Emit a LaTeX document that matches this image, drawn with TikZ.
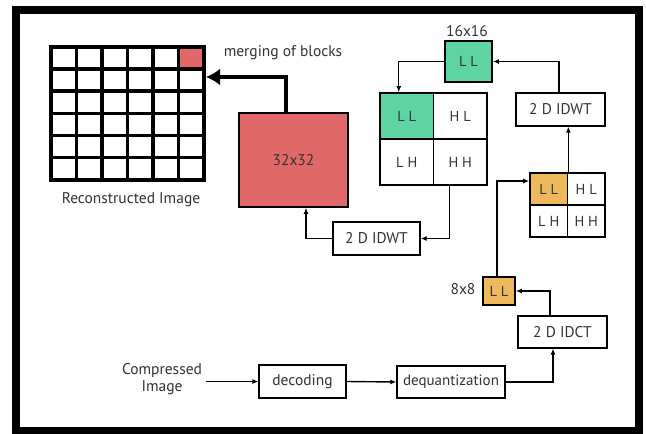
\documentclass[tikz,border=0pt]{standalone}
\usepackage{fontspec}
\setmainfont{PT Sans}
\usetikzlibrary{arrows.meta,positioning,calc}
\definecolor{txt}{HTML}{333333}
\definecolor{redb}{HTML}{E06868}
\definecolor{greenb}{HTML}{5ED4A2}
\definecolor{orangeb}{HTML}{EDB95C}
\tikzset{
  box/.style={draw=black,line width=1.3pt,fill=white,inner sep=0pt,font=\fontsize{15.5}{18}\selectfont,text=txt},
  cell/.style={draw=black,line width=1.6pt,inner sep=0pt,font=\fontsize{14.5}{17}\selectfont,text=txt},
  lbl/.style={inner sep=0pt,font=\fontsize{15.5}{16.5}\selectfont,text=txt,align=center},
  arr/.style={line width=1.4pt,-{Latex[length=6pt,width=5pt]}},
  bigarr/.style={line width=4pt,-{Latex[length=14pt,width=17pt]}},
}
\begin{document}
\begin{tikzpicture}[x=1pt,y=-1pt]
\useasboundingbox (0,0) rectangle (646,434);
\fill[white] (0,0) rectangle (646,434);
\draw[line width=8pt] (16,10) rectangle (639,431);

% reconstructed image grid
\node[draw=none,minimum width=153pt,minimum height=133pt,inner sep=0pt] (grid) at (127.5,113.5) {};
\fill[redb] (178.5,47) rectangle (204,69.17);
\foreach \i in {0,...,6}{
  \draw[line width=3.4pt] ($(grid.north west)+(\i*25.5,-1.7)$) -- ($(grid.south west)+(\i*25.5,1.7)$);
  \draw[line width=3.4pt] ($(grid.north west)+(0,\i*22.17)$) -- ($(grid.north east)+(0,\i*22.17)$);
}
\node[lbl] (recon) at (131,200) {Reconstructed Image};
\node[lbl] (merge) at (283,53) {merging of blocks};
\coordinate (m) at (206,77);

% 32x32
\node[box,fill=redb,line width=1.6pt,minimum width=109pt,minimum height=94pt] (red32) at (293.5,160) {32x32};

% lower IDWT
\node[box,minimum width=87pt,minimum height=33pt] (idwt1) at (376.5,238.5) {2 D IDWT};

% green quad
\node[cell,fill=greenb,minimum width=53.5pt,minimum height=46pt] (gLL) at (406.75,116) {L L};
\node[cell,fill=white,minimum width=53.5pt,minimum height=46pt] (gHL) at (460.25,116) {H L};
\node[cell,fill=white,minimum width=53.5pt,minimum height=46pt] (gLH) at (406.75,162) {L H};
\node[cell,fill=white,minimum width=53.5pt,minimum height=46pt] (gHH) at (460.25,162) {H H};

% 16x16
\node[cell,fill=greenb,minimum width=47pt,minimum height=41pt] (ll16) at (468.5,61.5) {L L};
\node[lbl] (s16) at (467,31) {16x16};

% upper IDWT
\node[box,minimum width=89pt,minimum height=33pt] (idwt2) at (560.5,109.5) {2 D IDWT};

% orange quad
\node[cell,fill=orangeb,minimum width=37.5pt,minimum height=32pt] (oLL) at (548.75,189) {L L};
\node[cell,fill=white,minimum width=37.5pt,minimum height=32pt] (oHL) at (586.25,189) {H L};
\node[cell,fill=white,minimum width=37.5pt,minimum height=32pt] (oLH) at (548.75,221) {L H};
\node[cell,fill=white,minimum width=37.5pt,minimum height=32pt] (oHH) at (586.25,221) {H H};

% 8x8
\node[cell,fill=orangeb,minimum width=32pt,minimum height=28pt] (ll8) at (499,291) {L L};
\node[lbl] (s8) at (463,289) {8x8};

% IDCT, dequantization, decoding
\node[box,minimum width=89pt,minimum height=32pt] (idct) at (562.5,332) {2 D IDCT};
\node[box,minimum width=108pt,minimum height=32pt,font=\fontsize{15}{17}\selectfont] (deq) at (451,382) {dequantization};
\node[box,minimum width=87pt,minimum height=33pt] (dec) at (302.5,381.5) {decoding};
\node[lbl] (comp) at (162,379) {Compressed\\Image};

% connectors
\draw[arr] (comp.east |- dec.west) ++(4,0) -- (dec.west);
\draw[arr] (dec.east) -- (deq.west);
\draw[arr] (deq.east) -| ([xshift=-9.5pt]idct.south);
\draw[arr] ([xshift=-12.5pt]idct.north) |- (ll8.east);
\draw[arr] ([xshift=-2pt]ll8.north) |- ([yshift=8pt]oLL.west);
\draw[arr] (oLL.north east) -- (oLL.north east |- idwt2.south);
\draw[arr] ([xshift=-1.5pt]idwt2.north) |- (ll16.east);
\draw[arr] (ll16.west) -| ([xshift=-8pt]gLL.north);
\draw[arr] ([xshift=-11pt]gHH.south) |- (idwt1.east);
\draw[arr] (idwt1.west) -| ([xshift=12.5pt]red32.south);
\draw[bigarr] ([xshift=-7.5pt]red32.north) |- (m);
\end{tikzpicture}
\end{document}
